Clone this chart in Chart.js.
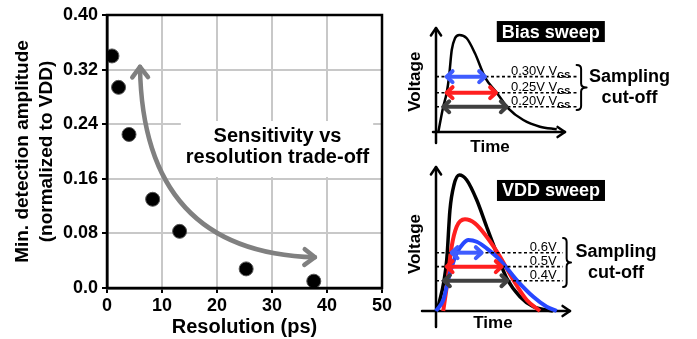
<!DOCTYPE html>
<html>
<head>
<meta charset="utf-8">
<script src="https://cdn.jsdelivr.net/npm/chart.js"></script>
<style>
  body { margin: 0; background: #fff; }
  #wrap { position: relative; width: 697px; height: 339px; }
  canvas { position: absolute; }
</style>
</head>
<body>
<div id="wrap">
  <canvas id="mainChart" width="400" height="339" style="left:0;top:0"></canvas>
  <canvas id="biasChart" width="297" height="160" style="left:400px;top:0"></canvas>
  <canvas id="vddChart" width="297" height="179" style="left:400px;top:160px"></canvas>
</div>
<script>
// ---- main scatter: resolution vs min. amplitude ----
const resolutionPs = [0.9, 2.1, 4.0, 8.3, 13.2, 25.3, 37.6];
const minAmplitude = [0.340, 0.294, 0.225, 0.130, 0.083, 0.028, 0.010];
const xTickValues = [0, 10, 20, 30, 40, 50];
const yTickValues = [0, 0.08, 0.16, 0.24, 0.32, 0.40];

// trade-off note and curved arrow (data units)
const tradeoffText = ['Sensitivity vs', 'resolution trade-off'];
const tradeoffAt = [31, 0.1985];
const tradeArrowFrom = [6.0, 0.324];
const tradeArrowCtrl = [6.5, 0.052];
const tradeArrowTo = [37.8, 0.045];

// ---- bias sweep sketch (arbitrary units 0..10) ----
const biasTime = [0.18, 0.54, 0.83, 1.01, 1.22, 1.47, 1.81, 2.38, 3.02, 3.80, 4.71, 5.60, 6.77, 8.06, 9.36];
const biasVolt = [0, 2.31, 3.78, 5.29, 7.88, 9.01, 9.33, 9.01, 7.57, 5.26, 3.78, 2.28, 1.15, 0.51, 0.26];
const biasLevels = [5.32, 3.78, 2.43];
const biasArrowFrom = [0.83, 0.83, 0.57];
const biasArrowTo = [3.80, 4.65, 5.48];
const biasLabels = ['0.30V', '0.25V', '0.20V'];

// ---- VDD sweep sketch (arbitrary units 0..10) ----
const vddBlackT = [0.1, 0.8, 1.04, 1.34, 1.74, 2.29, 3.04, 3.78, 4.53, 5.28, 6.27, 7.26, 8.73];
const vddBlackV = [0, 3.54, 7.01, 8.75, 9.44, 9.10, 7.71, 5.85, 4.01, 2.27, 0.99, 0.30, 0];
const vddRedT = [0.54, 0.80, 1.17, 1.54, 2.16, 2.91, 3.78, 4.78, 5.77, 6.77, 7.76];
const vddRedV = [0, 1.69, 4.47, 5.85, 6.37, 6.09, 5.16, 3.77, 2.15, 0.76, 0];
const vddBlueT = [0, 0.54, 1.04, 1.54, 2.04, 2.41, 3.04, 3.78, 4.78, 6.02, 7.26, 8.26, 9.01];
const vddBlueV = [0, 0.76, 2.62, 4.01, 4.70, 4.93, 4.81, 4.35, 3.54, 2.15, 0.99, 0.30, 0];
const vddLevels = [4.05, 3.08, 2.10];
const vddArrowFrom = [1.17, 0.80, 0.60];
const vddArrowTo = [3.41, 4.90, 5.32];
const vddLabels = ['0.6V', '0.5V', '0.4V'];

const arrowColors = ['#3f5cff', '#ff1f1f', '#404040'];
const FONT = '"Liberation Sans", Arial, sans-serif';
Chart.defaults.font.family = FONT;
Chart.defaults.color = '#000';

function chevron(ctx, x, y, ang, len, spread) {
  ctx.beginPath();
  ctx.moveTo(x + len * Math.cos(ang + spread), y + len * Math.sin(ang + spread));
  ctx.lineTo(x, y);
  ctx.lineTo(x + len * Math.cos(ang - spread), y + len * Math.sin(ang - spread));
  ctx.stroke();
}

// main chart extras: framed box, note, curved double arrow
const mainDecor = {
  id: 'mainDecor',
  beforeDatasetsDraw(chart) {
    const { ctx, scales: { x, y } } = chart;
    ctx.save();
    ctx.font = 'bold 20px ' + FONT;
    const cx = x.getPixelForValue(tradeoffAt[0]);
    const cy = y.getPixelForValue(tradeoffAt[1]);
    const w = Math.max(...tradeoffText.map(t => ctx.measureText(t).width));
    ctx.fillStyle = '#fff';
    ctx.fillRect(cx - w / 2 - 5, cy - 31.5, w + 9, 56);
    ctx.fillStyle = '#000';
    ctx.textAlign = 'center';
    ctx.textBaseline = 'alphabetic';
    ctx.fillText(tradeoffText[0], cx, cy - 10.8);
    ctx.fillText(tradeoffText[1], cx, cy + 10.8);

    const p0 = [x.getPixelForValue(tradeArrowFrom[0]), y.getPixelForValue(tradeArrowFrom[1])];
    const c = [x.getPixelForValue(tradeArrowCtrl[0]), y.getPixelForValue(tradeArrowCtrl[1])];
    const p1 = [x.getPixelForValue(tradeArrowTo[0]), y.getPixelForValue(tradeArrowTo[1])];
    ctx.strokeStyle = '#808080';
    ctx.lineWidth = 4.5;
    ctx.lineCap = 'round';
    ctx.lineJoin = 'round';
    ctx.beginPath();
    ctx.moveTo(p0[0], p0[1]);
    ctx.quadraticCurveTo(c[0], c[1], p1[0], p1[1]);
    ctx.stroke();
    chevron(ctx, p0[0], p0[1], Math.atan2(c[1] - p0[1], c[0] - p0[0]), 13, 0.65);
    chevron(ctx, p1[0], p1[1], Math.atan2(c[1] - p1[1], c[0] - p1[0]), 13, 0.65);
    ctx.restore();
  },
  afterDatasetsDraw(chart) {
    const { ctx, chartArea: a } = chart;
    ctx.save();
    ctx.strokeStyle = '#000';
    ctx.lineWidth = 2.5;
    ctx.strokeRect(a.left, a.top, a.right - a.left, a.bottom - a.top);
    ctx.restore();
  }
};

new Chart(document.getElementById('mainChart'), {
  type: 'scatter',
  data: {
    datasets: [{
      data: resolutionPs.map((r, i) => ({ x: r, y: minAmplitude[i] })),
      backgroundColor: '#000',
      borderColor: '#555',
      borderWidth: 1,
      pointRadius: 7
    }]
  },
  options: {
    responsive: false,
    animation: false,
    layout: { padding: { left: 0, right: 18, top: 15, bottom: 0 } },
    plugins: { legend: { display: false }, tooltip: { enabled: false } },
    scales: {
      x: {
        type: 'linear', min: 0, max: 50,
        afterBuildTicks: s => { s.ticks = xTickValues.map(v => ({ value: v })); },
        afterFit: s => { s.height = 51; },
        grid: { color: '#c8c8c8', lineWidth: 2, tickColor: '#000', tickWidth: 2, tickLength: 5 },
        border: { color: '#000', width: 2.5 },
        ticks: { color: '#000', font: { size: 18, weight: 'bold' }, padding: 2, maxRotation: 0 },
        title: { display: true, text: 'Resolution (ps)', color: '#000',
                 font: { size: 20, weight: 'bold' }, padding: { top: 0, bottom: 0 } }
      },
      y: {
        min: 0, max: 0.4,
        afterBuildTicks: s => { s.ticks = yTickValues.map(v => ({ value: v })); },
        afterFit: s => { s.width = 107; },
        grid: { color: '#c8c8c8', lineWidth: 2, tickColor: '#000', tickWidth: 2, tickLength: 5 },
        border: { color: '#000', width: 2.5 },
        ticks: { color: '#000', font: { size: 18, weight: 'bold' }, padding: 4,
                 callback: v => v === 0 ? '0.0' : v.toFixed(2) },
        title: { display: true, text: ['Min. detection amplitude', '(normalized to VDD)'], color: '#000',
                 font: { size: 19, weight: 'bold', lineHeight: 1.3 }, padding: { top: 10, bottom: 0 } }
      }
    }
  },
  plugins: [mainDecor]
});

// ---- sketches of the pulse with sampling cut-offs ----
function pts(ts, vs) { return ts.map((t, i) => ({ x: t, y: vs[i] })); }

function brace(ctx, x, yTop, yBot, w) {
  const xm = x + w * 0.45, ym = (yTop + yBot) / 2, r = 4;
  ctx.beginPath();
  ctx.moveTo(x, yTop);
  ctx.quadraticCurveTo(xm, yTop, xm, yTop + r);
  ctx.lineTo(xm, ym - r);
  ctx.quadraticCurveTo(xm, ym, x + w, ym);
  ctx.quadraticCurveTo(xm, ym, xm, ym + r);
  ctx.lineTo(xm, yBot - r);
  ctx.quadraticCurveTo(xm, yBot, x, yBot);
  ctx.stroke();
}

function sweepChart(id, spec) {
  const datasets = [];
  spec.curves.forEach(c => datasets.push({
    data: pts(c.t, c.v), borderColor: c.color, borderWidth: c.width, order: c.order,
    cubicInterpolationMode: 'monotone', pointRadius: 0, clip: false
  }));
  spec.levels.forEach(lv => datasets.push({
    data: [{ x: 0, y: lv }, { x: spec.dashEnd, y: lv }], borderColor: '#000', borderWidth: 1.6,
    borderDash: [3, 2.5], pointRadius: 0, order: 3, clip: false
  }));
  spec.levels.forEach((lv, i) => datasets.push({
    data: [{ x: spec.arrowFrom[i], y: lv }, { x: spec.arrowTo[i], y: lv }], borderColor: arrowColors[i],
    borderWidth: 4, pointRadius: 0, order: 0, clip: false, isArrow: true
  }));

  const decor = {
    id: 'sweepDecor',
    beforeDatasetsDraw(chart) {
      const { ctx, chartArea: a } = chart;
      ctx.save();
      ctx.strokeStyle = '#000';
      ctx.lineWidth = 2.5;
      ctx.lineCap = 'round';
      ctx.lineJoin = 'round';
      ctx.beginPath();
      ctx.moveTo(a.left, a.bottom + spec.yTail);
      ctx.lineTo(a.left, a.top);
      ctx.moveTo(a.left - spec.xTail, a.bottom);
      ctx.lineTo(a.right, a.bottom);
      ctx.stroke();
      chevron(ctx, a.left, a.top, Math.PI / 2, 9, 0.6);
      chevron(ctx, a.right, a.bottom, Math.PI, 9, 0.6);

      ctx.fillStyle = '#000';
      ctx.font = 'bold 17px ' + FONT;
      ctx.textAlign = 'center';
      ctx.textBaseline = 'middle';
      ctx.fillText('Time', chart.scales.x.getPixelForValue(spec.timeAt), a.bottom + spec.timeDy);
      ctx.save();
      ctx.translate(a.left - 21, chart.scales.y.getPixelForValue(spec.voltageAt));
      ctx.rotate(-Math.PI / 2);
      ctx.fillText('Voltage', 0, 0);
      ctx.restore();
      ctx.restore();
    },
    afterDatasetsDraw(chart) {
      const { ctx } = chart;
      const x = chart.scales.x, y = chart.scales.y;
      ctx.save();
      // arrow heads
      ctx.lineWidth = 4;
      ctx.lineCap = 'round';
      ctx.lineJoin = 'round';
      chart.data.datasets.forEach((ds, i) => {
        if (!ds.isArrow) return;
        const p = chart.getDatasetMeta(i).data;
        ctx.strokeStyle = ds.borderColor;
        chevron(ctx, p[0].x, p[0].y, 0, 8, 0.75);
        chevron(ctx, p[1].x, p[1].y, Math.PI, 8, 0.75);
      });
      // level labels
      ctx.fillStyle = '#000';
      ctx.textBaseline = 'alphabetic';
      ctx.textAlign = 'left';
      spec.levels.forEach((lv, i) => {
        const right = x.getPixelForValue(spec.labelEnd);
        const base = y.getPixelForValue(lv) - 1.5;
        ctx.font = '13px ' + FONT;
        const main = spec.labels[i] + (spec.sub ? ' V' : '');
        const wm = ctx.measureText(main).width;
        let ws = 0;
        if (spec.sub) { ctx.font = 'bold 9px ' + FONT; ws = ctx.measureText(spec.sub).width; }
        ctx.font = '13px ' + FONT;
        ctx.fillText(main, right - wm - ws, base);
        if (spec.sub) {
          ctx.font = 'bold 9px ' + FONT;
          ctx.fillText(spec.sub, right - ws, base + 3);
        }
      });
      // bracket and note
      ctx.strokeStyle = '#000';
      ctx.lineWidth = 2;
      const bx = x.getPixelForValue(spec.brace.t);
      const bTop = y.getPixelForValue(spec.brace.vTop), bBot = y.getPixelForValue(spec.brace.vBot);
      brace(ctx, bx, bTop, bBot, spec.brace.w);
      const mid = (bTop + bBot) / 2;
      ctx.font = 'bold 18px ' + FONT;
      ctx.textAlign = 'center';
      ctx.textBaseline = 'middle';
      ctx.fillText('Sampling', bx + spec.brace.w + spec.noteDx, mid - 10.5);
      ctx.fillText('cut-off', bx + spec.brace.w + spec.noteDx, mid + 11);
      // title tag
      ctx.font = 'bold 18px ' + FONT;
      const tx = x.getPixelForValue(spec.titleAt[0]), ty = y.getPixelForValue(spec.titleAt[1]);
      const tw = ctx.measureText(spec.title).width;
      ctx.fillStyle = '#000';
      ctx.fillRect(tx - tw / 2 - 5, ty - 10.5, tw + 10, 21);
      ctx.fillStyle = '#fff';
      ctx.fillText(spec.title, tx, ty + 1);
      ctx.restore();
    }
  };

  return new Chart(document.getElementById(id), {
    type: 'line',
    data: { datasets },
    options: {
      responsive: false,
      animation: false,
      layout: { padding: spec.padding },
      plugins: { legend: { display: false }, tooltip: { enabled: false } },
      scales: {
        x: { type: 'linear', min: 0, max: 10, display: false },
        y: { min: 0, max: 10, display: false }
      }
    },
    plugins: [decor]
  });
}

sweepChart('biasChart', {
  padding: { left: 36, right: 132, top: 28, bottom: 28 },
  curves: [{ t: biasTime, v: biasVolt, color: '#000', width: 2.5, order: 6 }],
  levels: biasLevels, arrowFrom: biasArrowFrom, arrowTo: biasArrowTo,
  labels: biasLabels, sub: 'GS', labelEnd: 10.4, dashEnd: 11.0,
  brace: { t: 10.9, vTop: 6.44, vBot: 2.12, w: 10 }, noteDx: 43,
  title: 'Bias sweep', titleAt: [8.9, 9.66],
  timeAt: 4.19, timeDy: 15, voltageAt: 4.84, xTail: 3, yTail: 11
});

sweepChart('vddChart', {
  padding: { left: 36, right: 127, top: 7, bottom: 28 },
  curves: [
    { t: vddBlackT, v: vddBlackV, color: '#000', width: 3.5, order: 6 },
    { t: vddRedT, v: vddRedV, color: '#ff1f1f', width: 4, order: 5 },
    { t: vddBlueT, v: vddBlueV, color: '#2747ff', width: 4, order: 4 }
  ],
  levels: vddLevels, arrowFrom: vddArrowFrom, arrowTo: vddArrowTo,
  labels: vddLabels, sub: '', labelEnd: 9.0, dashEnd: 9.48,
  brace: { t: 9.48, vTop: 5.07, vBot: 1.67, w: 8 }, noteDx: 45,
  title: 'VDD sweep', titleAt: [8.58, 8.37],
  timeAt: 4.25, timeDy: 12, voltageAt: 4.65, xTail: 14, yTail: 16
});
</script>
</body>
</html>
